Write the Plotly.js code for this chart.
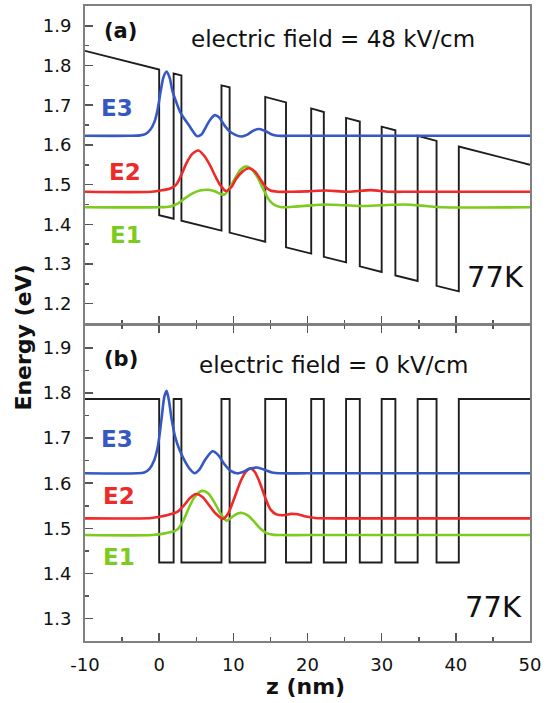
<!DOCTYPE html>
<html>
<head>
<meta charset="utf-8">
<script src="https://cdn.plot.ly/plotly-3.0.1.min.js"></script>
<style>html,body{margin:0;padding:0;background:#fff;}#chart{width:548px;height:703px;}</style>
</head>
<body>
<div id="chart"></div>
<script>
// ---- Conduction band profiles ----
const bandAZ = [-10,0,0,1.95,1.95,3.0,3.0,8.4,8.4,9.5,9.5,14.3,14.3,17.1,17.1,20.5,20.5,22.2,22.2,25.2,25.2,27.05,27.05,30.0,30.0,31.85,31.85,34.85,34.85,37.4,37.4,40.4,40.4,50];
const bandAE = [1.837,1.790,1.423,1.414,1.780,1.775,1.409,1.384,1.750,1.745,1.379,1.356,1.721,1.707,1.342,1.326,1.692,1.683,1.318,1.304,1.668,1.659,1.294,1.280,1.646,1.637,1.271,1.257,1.623,1.610,1.245,1.231,1.596,1.550];
const bandBZ = [-10,0,0,1.95,1.95,3.0,3.0,8.4,8.4,9.5,9.5,14.3,14.3,17.1,17.1,20.5,20.5,22.2,22.2,25.2,25.2,27.05,27.05,30.0,30.0,31.85,31.85,34.85,34.85,37.4,37.4,40.4,40.4,50];
const bandBE = [1.787,1.787,1.424,1.424,1.787,1.787,1.424,1.424,1.787,1.787,1.424,1.424,1.787,1.787,1.424,1.424,1.787,1.787,1.424,1.424,1.787,1.787,1.424,1.424,1.787,1.787,1.424,1.424,1.787,1.787,1.424,1.424,1.787,1.787];

// ---- Panel (a): 48 kV/cm wavefunctions ----
const e3AZ = [-10,-4,-2.6,-1.8,-1.2,-0.6,-0.2,0.2,0.6,1.0,1.4,1.8,2.3,2.8,3.4,4.0,4.6,5.1,5.7,6.3,6.9,7.5,8.1,8.7,9.4,10.2,11.1,11.9,12.7,13.5,14.3,15.1,16.0,17.5,30,50];
const e3AE = [1.623,1.623,1.624,1.628,1.638,1.660,1.690,1.735,1.772,1.785,1.770,1.735,1.708,1.684,1.666,1.650,1.633,1.622,1.626,1.645,1.664,1.675,1.669,1.652,1.636,1.626,1.621,1.626,1.636,1.640,1.635,1.627,1.623,1.623,1.623,1.623];
const e2AZ = [-10,-1,0.5,1.5,2.3,3.0,3.7,4.5,5.3,6.1,6.9,7.6,8.3,9.0,9.7,10.4,11.2,12.1,12.9,13.6,14.3,15.0,16.0,18,20,22.5,25.5,28.5,31,34,50];
const e2AE = [1.482,1.482,1.486,1.490,1.500,1.525,1.555,1.578,1.586,1.572,1.547,1.520,1.497,1.484,1.493,1.515,1.532,1.541,1.533,1.515,1.495,1.485,1.482,1.482,1.483,1.485,1.482,1.486,1.482,1.482,1.482];
const e1AZ = [-10,0,1.5,2.5,3.5,4.5,5.5,6.6,7.5,8.3,8.8,9.4,10.2,11.0,11.7,12.4,13.2,14.0,14.8,15.6,16.5,18,20,22.5,25,27.5,30,33,36,38,50];
const e1AE = [1.443,1.443,1.445,1.452,1.466,1.478,1.485,1.487,1.483,1.476,1.475,1.488,1.515,1.538,1.546,1.540,1.520,1.490,1.462,1.448,1.443,1.444,1.447,1.450,1.448,1.446,1.448,1.450,1.446,1.443,1.443];

// ---- Panel (b): 0 kV/cm wavefunctions ----
const e3BZ = [-10,-3,-2,-1.3,-0.7,-0.2,0.3,0.7,1.0,1.3,1.7,2.2,2.8,3.5,4.2,4.8,5.4,6.2,7.2,8.0,8.8,9.6,10.5,11.3,12.2,13.2,14.2,15.2,16.5,20,50];
const e3BE = [1.622,1.622,1.624,1.632,1.650,1.680,1.740,1.792,1.805,1.785,1.740,1.700,1.672,1.648,1.630,1.622,1.630,1.652,1.671,1.662,1.642,1.628,1.622,1.625,1.632,1.635,1.630,1.624,1.622,1.622,1.622];
const e2BZ = [-10,-1,0.5,1.5,2.5,3.3,4.2,5.0,5.8,6.7,7.6,8.6,9.3,10.2,11.0,11.7,12.3,12.9,13.6,14.3,15.0,15.8,16.8,17.8,18.7,19.8,21,25,50];
const e2BE = [1.522,1.523,1.527,1.531,1.537,1.550,1.568,1.576,1.570,1.552,1.533,1.521,1.533,1.570,1.605,1.626,1.633,1.625,1.600,1.568,1.542,1.531,1.529,1.532,1.531,1.526,1.523,1.522,1.522];
const e1BZ = [-10,-1,0.5,1.5,2.4,3.2,4.0,4.8,5.8,6.6,7.5,8.3,9.1,9.9,10.6,11.2,12.0,12.8,13.6,14.4,15.3,16.5,20,50];
const e1BE = [1.485,1.485,1.488,1.491,1.497,1.515,1.545,1.570,1.583,1.578,1.556,1.532,1.517,1.526,1.533,1.534,1.528,1.515,1.500,1.490,1.486,1.485,1.485,1.485];

// ---- Axes ----
const zRange = [-10, 50];
const zTickVals = [-10, 0, 10, 20, 30, 40, 50];
const zTickText = ['-10', '0', '10', '20', '30', '40', '50'];
const yRangeA = [1.15, 1.95];
const yRangeB = [1.25, 1.95];

const cBand = '#1e1e1e', cE3 = '#3658c2', cE2 = '#ee2a2a', cE1 = '#7dcb1f';
const FONT = 'DejaVu Sans, Arial, sans-serif';

function band(x, y, xa, ya) {
  return {x, y, xaxis: xa, yaxis: ya, type: 'scatter', mode: 'lines',
    line: {color: cBand, width: 1.9}, hoverinfo: 'skip', showlegend: false};
}
function wave(x, y, color, xa, ya) {
  return {x, y, xaxis: xa, yaxis: ya, type: 'scatter', mode: 'lines',
    line: {color, width: 2.6, shape: 'spline', smoothing: 0.8}, hoverinfo: 'skip', showlegend: false};
}

const data = [
  band(bandAZ, bandAE, 'x', 'y'),
  wave(e1AZ, e1AE, cE1, 'x', 'y'),
  wave(e2AZ, e2AE, cE2, 'x', 'y'),
  wave(e3AZ, e3AE, cE3, 'x', 'y'),
  band(bandBZ, bandBE, 'x2', 'y2'),
  wave(e1BZ, e1BE, cE1, 'x2', 'y2'),
  wave(e2BZ, e2BE, cE2, 'x2', 'y2'),
  wave(e3BZ, e3BE, cE3, 'x2', 'y2')
];

const frame = {showline: true, linecolor: '#808080', linewidth: 2, showgrid: false, zeroline: false};
const tickStyle = {ticks: 'inside', ticklen: 8, tickwidth: 1.5, tickcolor: '#555'};
const minorX = {dtick: 5, ticks: 'inside', ticklen: 4, tickwidth: 1.5, tickcolor: '#555'};
const minorY = {dtick: 0.05, ticks: 'inside', ticklen: 4, tickwidth: 1.5, tickcolor: '#555'};

function ann(text, x, y, xref, yref, size, color, extra) {
  return Object.assign({text, x, y, xref, yref, showarrow: false,
    font: {family: FONT, size, color}, xanchor: 'center', yanchor: 'middle'}, extra || {});
}

const layout = {
  width: 548, height: 703,
  margin: {l: 85, r: 18, t: 6, b: 62},
  paper_bgcolor: '#fff', plot_bgcolor: '#fff',
  font: {family: FONT, size: 18, color: '#111'},
  showlegend: false,
  xaxis: Object.assign({}, frame, tickStyle, {anchor: 'y', range: zRange, tickmode: 'array',
    tickvals: zTickVals, ticktext: zTickText, showticklabels: false, mirror: true,
    minor: Object.assign({}, minorX, {tickmode: 'linear', tick0: 0})}),
  yaxis: Object.assign({}, frame, tickStyle, {anchor: 'x', domain: [0.5, 1], range: yRangeA,
    dtick: 0.1, tick0: 0, mirror: true, ticklabelstandoff: 8, tickfont: {size: 18}, minor: minorY}),
  xaxis2: Object.assign({}, frame, tickStyle, {anchor: 'y2', range: zRange, tickmode: 'array',
    tickvals: zTickVals, ticktext: zTickText, mirror: 'ticks', ticklabelstandoff: 6,
    tickfont: {size: 18}, minor: Object.assign({}, minorX, {tickmode: 'linear', tick0: 0})}),
  yaxis2: Object.assign({}, frame, tickStyle, {anchor: 'x2', domain: [0, 0.4969], range: yRangeB,
    dtick: 0.1, tick0: 0, mirror: true, ticklabelstandoff: 8, tickfont: {size: 18}, minor: minorY}),
  annotations: [
    ann('<b>(a)</b>', -5.15, 1.887, 'x', 'y', 21, '#111'),
    ann('electric field = 48 kV/cm', 23.4, 1.868, 'x', 'y', 23, '#111'),
    ann('77K', 45.3, 1.268, 'x', 'y', 29, '#111'),
    ann('<b>E3</b>', -5.7, 1.693, 'x', 'y', 23, cE3),
    ann('<b>E2</b>', -4.55, 1.533, 'x', 'y', 23, cE2),
    ann('<b>E1</b>', -4.45, 1.373, 'x', 'y', 23, cE1),
    ann('<b>(b)</b>', -5.15, 1.876, 'x2', 'y2', 21, '#111'),
    ann('electric field = 0 kV/cm', 23.45, 1.862, 'x2', 'y2', 23, '#111'),
    ann('77K', 45.1, 1.326, 'x2', 'y2', 29, '#111'),
    ann('<b>E3</b>', -5.7, 1.699, 'x2', 'y2', 23, cE3),
    ann('<b>E2</b>', -5.43, 1.572, 'x2', 'y2', 23, cE2),
    ann('<b>E1</b>', -5.4, 1.437, 'x2', 'y2', 23, cE1),
    ann('<b>Energy (eV)</b>', -0.139, 0.478, 'paper', 'paper', 22, '#111', {textangle: -90}),
    ann('<b>z (nm)</b>', 0.495, -0.0724, 'paper', 'paper', 22, '#111')
  ]
};

Plotly.newPlot('chart', data, layout, {staticPlot: true, displayModeBar: false});
</script>
</body>
</html>
